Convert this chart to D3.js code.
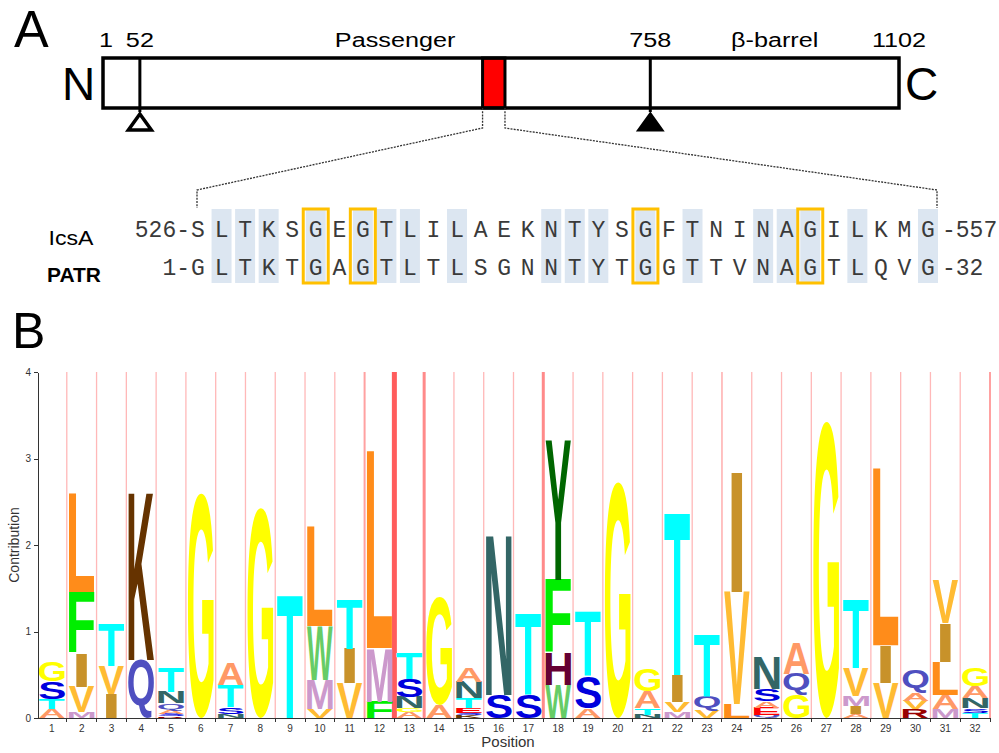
<!DOCTYPE html>
<meta charset="utf-8">
<style>
body { margin: 0; background: #fff; }
svg { font-family: "Liberation Sans", Arial, sans-serif; display: block; }
.seq { font-family: "Liberation Mono", "Courier New", monospace; font-size: 23px; fill: #3a3a3a; }
.axis path, .axis line { fill: none; stroke: #333; shape-rendering: crispEdges; }
.axis text { font-size: 10px; fill: #333; }
</style>
<script src="https://d3js.org/d3.v7.min.js"></script>
<body>
<script>

// ---- panel A data ----
var proteinLength = 1102;
var siteLabels = [1, 52, 758, 1102];
var domains = [["Passenger", 52, 758], ["β-barrel", 758, 1102]];
var cleavageOpen = [52];
var cleavageFilled = [758];
var motifRange = [526, 557];

var icsaSeq = "SLTKSGEGTLILAEKNTYSGFTNINAGILKMG";
var patrSeq = "GLTKTGAGTLTLSGNNTYTGGTTVNAGTLQVG";
var boxedPositions = [6, 8, 20, 27];

// ---- panel B data ----
var positions = ["1","2","3","4","5","6","7","8","9","10","11","12","13","14","15","16",
                 "17","18","19","20","21","22","23","24","25","26","27","28","29","30","31","32"];
// residues of each column, bottom to top
var logoResidues = ["ATSG", "MVIFL", "IVT", "QK", "RSAQNT", "G", "NSTA", "G", "T", "VMWL",
                    "VIT", "FML", "AGNST", "AG", "KSETNA", "SN", "ST", "WHFY", "AST", "G",
                    "NTAG", "MVIT", "VQT", "LVI", "QEASN", "GQA", "G", "AIMVT", "VIL", "RVAQ",
                    "MALIV", "TSNAG"];
var logoHeights = [
  [0.10, 0.12, 0.20, 0.23],
  [0.07, 0.29, 0.39, 0.71, 1.14],
  [0.28, 0.32, 0.50],
  [0.67, 1.95],
  [0.02, 0.03, 0.04, 0.08, 0.13, 0.29],
  [2.60],
  [0.05, 0.08, 0.25, 0.26],
  [2.43],
  [1.42],
  [0.10, 0.34, 0.62, 1.16],
  [0.40, 0.40, 0.57],
  [0.19, 0.62, 2.28],
  [0.07, 0.04, 0.13, 0.21, 0.30],
  [0.15, 1.25],
  [0.03, 0.03, 0.05, 0.12, 0.19, 0.17],
  [0.27, 1.87],
  [0.27, 0.95],
  [0.38, 0.37, 0.85, 1.61],
  [0.11, 0.37, 0.75],
  [2.73],
  [0.04, 0.08, 0.19, 0.25],
  [0.07, 0.12, 0.31, 1.90],
  [0.08, 0.18, 0.72],
  [0.16, 1.30, 1.39],
  [0.04, 0.08, 0.07, 0.14, 0.38],
  [0.27, 0.24, 0.36],
  [3.43],
  [0.05, 0.09, 0.12, 0.32, 0.80],
  [0.40, 0.44, 2.05],
  [0.10, 0.10, 0.09, 0.27],
  [0.10, 0.17, 0.38, 0.45, 0.50],
  [0.06, 0.05, 0.12, 0.14, 0.21]
];
// strength of the separator after each column (index 0 = after column 1)
var breakScore = [1, 1, 1, 1, 1, 1, 1, 1, 1, 1, 2, 5, 3, 1, 1, 1, 3, 1, 1, 1,
                  1, 1, 1.5, 1, 1, 1, 1, 1, 1, 1, 1, 2];
var yTicks = [0, 1, 2, 3, 4];

var residueColor = {
  A: "#ff9966", C: "#ffcc00", D: "#cc0000", E: "#ff0000", F: "#00ee00", G: "#ffff00",
  H: "#660033", I: "#c8922a", K: "#663300", L: "#ff8c1a", M: "#cc99cc", N: "#336666",
  P: "#33cc00", Q: "#4f4fc0", R: "#990000", S: "#0000dd", T: "#00ffff", V: "#ffbb33",
  W: "#66cc66", Y: "#006600"
};

var svg = d3.select("body").append("svg")
    .attr("width", 999)
    .attr("height", 753);

// stretched text helper (small labels of panel A are wide)
function wideText(g, x, y, txt, size, sx) {
  return g.append("text")
      .attr("transform", "translate(" + x + "," + y + ") scale(" + sx + ",1)")
      .attr("text-anchor", "middle")
      .style("font-size", size + "px")
      .text(txt);
}

//============ Panel A ============
var gA = svg.append("g");
gA.append("text").attr("x", 14).attr("y", 47).style("font-size", "52px").text("A");

var xp = d3.scaleLinear().domain([1, proteinLength]).range([103, 899]);
var boxTop = 58, boxBot = 108;

gA.append("rect")
    .attr("x", xp(motifRange[0])).attr("y", boxTop)
    .attr("width", xp(motifRange[1]) - xp(motifRange[0])).attr("height", boxBot - boxTop)
    .attr("fill", "#ff0000").attr("stroke", "#000").attr("stroke-width", 3);

gA.append("rect")
    .attr("x", xp(1)).attr("y", boxTop)
    .attr("width", xp(proteinLength) - xp(1)).attr("height", boxBot - boxTop)
    .attr("fill", "none").attr("stroke", "#000").attr("stroke-width", 3.5);

gA.selectAll(".site")
    .data(cleavageOpen.concat(cleavageFilled))
  .enter().append("line")
    .attr("x1", function(d) { return xp(d); }).attr("x2", function(d) { return xp(d); })
    .attr("y1", boxTop).attr("y2", boxBot + 4)
    .attr("stroke", "#000").attr("stroke-width", 3);

function tri(d) {
  var x = xp(d);
  return "M" + x + ",114L" + (x + 11.5) + ",130L" + (x - 11.5) + ",130Z";
}
gA.selectAll(".open").data(cleavageOpen).enter().append("path")
    .attr("d", tri).attr("fill", "#fff").attr("stroke", "#000").attr("stroke-width", 3.5)
    .attr("stroke-linejoin", "miter");
gA.selectAll(".filled").data(cleavageFilled).enter().append("path")
    .attr("d", tri).attr("fill", "#000").attr("stroke", "#000").attr("stroke-width", 3);

siteLabels.forEach(function(d) {
  wideText(gA, xp(d) + (d === 1 ? 3 : 0), 47, String(d), 21, 1.2);
});
domains.forEach(function(d) {
  wideText(gA, xp((d[1] + d[2]) / 2), 47, d[0], 21, 1.2);
});

gA.append("text").attr("x", 62).attr("y", 100).style("font-size", "46px").text("N");
gA.append("text").attr("x", 905).attr("y", 100).style("font-size", "46px").text("C");

// alignment
var xs = d3.scaleLinear().domain([1, 32]).range([198, 928]);
var row1 = 237, row2 = 275;

var dash = d3.line();
gA.append("path")
    .attr("d", dash([[xp(motifRange[0]), boxBot], [xp(motifRange[0]), 128], [xs(1) - 1, 190], [xs(1) - 1, 208]]))
    .attr("fill", "none").attr("stroke", "#333").attr("stroke-width", 1.3).attr("stroke-dasharray", "2,1.2");
gA.append("path")
    .attr("d", dash([[xp(motifRange[1]), boxBot], [xp(motifRange[1]), 128], [xs(32) + 9, 190], [xs(32) + 9, 208]]))
    .attr("fill", "none").attr("stroke", "#333").attr("stroke-width", 1.3).attr("stroke-dasharray", "2,1.2");

var seqIdx = d3.range(1, icsaSeq.length + 1);
var identical = seqIdx.filter(function(i) { return icsaSeq[i - 1] === patrSeq[i - 1]; });

gA.selectAll(".shade").data(identical).enter().append("rect")
    .attr("x", function(d) { return xs(d) - 10; }).attr("y", 209)
    .attr("width", 20).attr("height", 74)
    .attr("fill", "#dce6f1");

gA.selectAll(".gbox").data(boxedPositions).enter().append("rect")
    .attr("x", function(d) { return xs(d) - 12.5; }).attr("y", 209)
    .attr("width", 25).attr("height", 74)
    .attr("fill", "none").attr("stroke", "#ffc000").attr("stroke-width", 3);

gA.selectAll(".r1").data(seqIdx).enter().append("text")
    .attr("class", "seq").attr("x", function(d) { return xs(d); }).attr("y", row1)
    .attr("text-anchor", "middle").text(function(d) { return icsaSeq[d - 1]; });
gA.selectAll(".r2").data(seqIdx).enter().append("text")
    .attr("class", "seq").attr("x", function(d) { return xs(d); }).attr("y", row2)
    .attr("text-anchor", "middle").text(function(d) { return patrSeq[d - 1]; });

gA.append("text").attr("class", "seq").attr("x", 190).attr("y", row1).attr("text-anchor", "end")
    .text(motifRange[0] + "-");
gA.append("text").attr("class", "seq").attr("x", 942).attr("y", row1).text("-" + motifRange[1]);
gA.append("text").attr("class", "seq").attr("x", 190).attr("y", row2).attr("text-anchor", "end").text("1-");
gA.append("text").attr("class", "seq").attr("x", 942).attr("y", row2).text("-" + patrSeq.length);

wideText(gA, 71, 245, "IcsA", 21, 1.1);
wideText(gA, 74, 282, "PATR", 20, 1.05).style("font-weight", "bold");

//============ Panel B ============
svg.append("text").attr("x", 12).attr("y", 348).style("font-size", "50px").text("B");

var x = d3.scaleBand().domain(positions).range([37, 990]).padding(0);
var y = d3.scaleLinear().domain([0, 4]).range([718, 372]);
var gB = svg.append("g");

var sepColor = d3.scaleLinear().domain([1, 5]).range(["#ffb8b8", "#ff5c5c"]);
gB.selectAll(".sep").data(positions).enter().append("line")
    .attr("x1", function(d) { return x(d) + x.bandwidth(); })
    .attr("x2", function(d) { return x(d) + x.bandwidth(); })
    .attr("y1", y(4)).attr("y2", y(0))
    .attr("stroke", function(d, i) { return sepColor(breakScore[i]); })
    .attr("stroke-width", function(d, i) { return breakScore[i] === 1 ? 1.3 : breakScore[i]; });

// glyph ink metrics for stretching letters into their boxes
var ctx = document.createElement("canvas").getContext("2d");
ctx.font = "bold 100px 'Liberation Sans'";
var metrics = {};
function glyph(ch) {
  if (!metrics[ch]) {
    var m = ctx.measureText(ch);
    metrics[ch] = { l: m.actualBoundingBoxLeft, r: m.actualBoundingBoxRight,
                    a: m.actualBoundingBoxAscent, d: m.actualBoundingBoxDescent };
  }
  return metrics[ch];
}

var stacks = [];
positions.forEach(function(p, i) {
  var base = 0;
  logoResidues[i].split("").forEach(function(ch, j) {
    var h = logoHeights[i][j];
    stacks.push({ pos: p, ch: ch, y0: base, y1: base + h });
    base += h;
  });
});

gB.selectAll(".res").data(stacks).enter().append("text")
    .attr("class", "res")
    .style("font-family", "'Liberation Sans'")
    .style("font-weight", "bold")
    .style("font-size", "100px")
    .attr("fill", function(d) { return residueColor[d.ch]; })
    .attr("x", function(d) { return glyph(d.ch).l; })
    .attr("y", function(d) { return glyph(d.ch).a; })
    .attr("transform", function(d) {
      var g = glyph(d.ch);
      var w = x.bandwidth() - 4;
      var left = x(d.pos) + 2;
      if (d.ch === "I") { left += w * 0.275; w = w * 0.45; }
      var sx = w / (g.l + g.r);
      var sy = (y(d.y0) - y(d.y1)) / (g.a + g.d);
      return "translate(" + left + "," + y(d.y1) + ") scale(" + sx + "," + sy + ")";
    })
    .text(function(d) { return d.ch; });

// axes
gB.append("g").attr("class", "axis")
    .attr("transform", "translate(38,0)")
    .call(d3.axisLeft(y).tickValues(yTicks).tickSize(4).tickSizeOuter(0).tickFormat(d3.format("d")));

var xAxis = gB.append("g").attr("class", "axis")
    .attr("transform", "translate(0," + y(0) + ")")
    .call(d3.axisBottom(x).tickSize(0).tickPadding(7));
xAxis.select(".domain").attr("d", "M37,0H990");
xAxis.selectAll(".bound").data(positions).enter().append("line")
    .attr("x1", function(d) { return x(d) + x.bandwidth(); })
    .attr("x2", function(d) { return x(d) + x.bandwidth(); })
    .attr("y1", 0).attr("y2", 4);

gB.append("text")
    .attr("x", 508).attr("y", 747).attr("text-anchor", "middle")
    .style("font-size", "15px").attr("fill", "#333")
    .text("Position");
gB.append("text")
    .attr("transform", "translate(19,545) rotate(-90)").attr("text-anchor", "middle")
    .style("font-size", "14px").attr("fill", "#333")
    .text("Contribution");

</script>
